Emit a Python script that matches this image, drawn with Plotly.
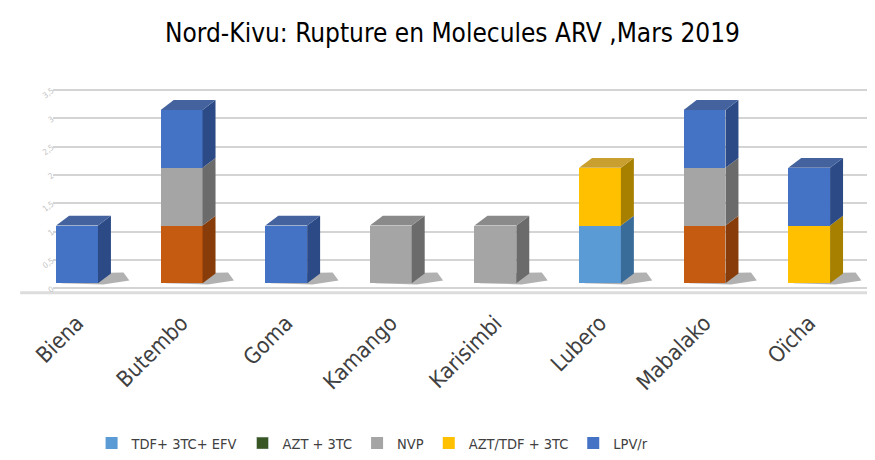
import numpy as np
import plotly.graph_objects as go

# ---------------- data ----------------
categories = ["Biena", "Butembo", "Goma", "Kamango", "Karisimbi", "Lubero", "Mabalako", "Oïcha"]
tdf_3tc_efv = [0, 0, 0, 0, 0, 1, 0, 0]
azt_3tc     = [0, 1, 0, 0, 0, 0, 1, 0]
nvp         = [0, 1, 0, 1, 1, 0, 1, 0]
azt_tdf_3tc = [0, 0, 0, 0, 0, 1, 0, 1]
lpv_r       = [1, 1, 1, 0, 0, 0, 1, 1]
y_tick_vals = [0, 0.5, 1, 1.5, 2, 2.5, 3, 3.5]
y_tick_text = ["0", "0,5", "1", "1,5", "2", "2,5", "3", "3,5"]

FONT = "DejaVu Sans Condensed, DejaVu Sans, sans-serif"

series = [
    # name, values, front, side, top, legend colour, showlegend
    ("TDF+ 3TC+ EFV", tdf_3tc_efv, "#5b9bd5", "#3a6c99", "#4a7fb0", "#5b9bd5", True),
    ("AZT + 3TC",     azt_3tc,     "#c55a11", "#873c09", "#a04a0e", "#375623", False),
    ("NVP",           nvp,         "#a5a5a5", "#6b6b6b", "#8a8a8a", "#a5a5a5", True),
    ("AZT/TDF + 3TC", azt_tdf_3tc, "#ffc000", "#a88000", "#c9a030", "#ffc000", True),
    ("LPV/r",         lpv_r,       "#4472c4", "#2b4a86", "#44639e", "#4472c4", True),
]

n = len(categories)
xi = np.arange(n)
bar_w = 0.40
dx = 0.124   # depth offset in category units
dy = 0.17    # depth offset in value units

fig = go.Figure()

# invisible trace to carry the gridline axis
fig.add_trace(go.Scatter(x=[0], y=[0], yaxis="y2", mode="markers",
                         marker=dict(opacity=0), showlegend=False, hoverinfo="skip"))

for name, vals, front, side, top, legc, showleg in series:
    fig.add_trace(go.Bar(x=xi, y=vals, name=name, width=bar_w,
                         marker=dict(color=front, line=dict(width=0)),
                         showlegend=showleg))
    if not showleg:
        fig.add_trace(go.Bar(x=xi, y=[None] * n, name=name, width=bar_w,
                             marker=dict(color=legc), showlegend=True))

# ---------------- 3D faces ----------------
shapes = []
stack = np.zeros(n)
totals = np.sum([np.array(s[1], float) for s in series], axis=0)

# shadows on floor
for i in range(n):
    if totals[i] > 0:
        xl, xr = xi[i] - bar_w / 2, xi[i] + bar_w / 2
        shapes.append(dict(type="path", xref="x", yref="y", layer="below",
                           path=f"M {xl+0.05},0 L {xr+0.05},-0.02 L {xr+0.30},0.05 L {xr+dx+0.12},{dy*1.1} L {xl+dx},{dy} Z",
                           fillcolor="rgba(60,60,60,0.40)", line=dict(width=0)))

for name, vals, front, side, top, legc, showleg in series:
    v = np.array(vals, float)
    for i in range(n):
        if v[i] <= 0:
            continue
        b = stack[i]
        t = b + v[i]
        xl, xr = xi[i] - bar_w / 2, xi[i] + bar_w / 2
        shapes.append(dict(type="path", xref="x", yref="y", layer="above",
                           path=f"M {xr},{b} L {xr+dx},{b+dy} L {xr+dx},{t+dy} L {xr},{t} Z",
                           fillcolor=side, line=dict(width=0)))
        if abs(t - totals[i]) < 1e-9:
            shapes.append(dict(type="path", xref="x", yref="y", layer="above",
                               path=f"M {xl},{t} L {xl+dx},{t+dy} L {xr+dx},{t+dy} L {xr},{t} Z",
                               fillcolor=top, line=dict(width=0)))
    stack += v

# floor edge
shapes.append(dict(type="line", xref="paper", yref="y2", layer="below",
                   x0=-0.04, x1=1.0, y0=-0.08, y1=-0.08,
                   line=dict(color="#dcdcdc", width=3)))

fig.update_layout(
    width=875, height=460,
    paper_bgcolor="white", plot_bgcolor="white",
    margin=dict(l=45, r=9, t=60, b=160),
    barmode="stack",
    bargap=0,
    title=dict(text="Nord-Kivu: Rupture en Molecules ARV ,Mars 2019",
               x=0.508, xanchor="center", y=0.945, yanchor="middle",
               font=dict(family=FONT, size=26, color="#000000")),
    xaxis=dict(range=[-0.23, 7.62], tickmode="array", tickvals=list(xi), ticktext=categories,
               tickangle=-45, showgrid=False, zeroline=False, showline=False, ticks="",
               automargin=False,
               tickfont=dict(family=FONT, size=22, color="#404040")),
    yaxis=dict(range=[-0.376, 3.726], showgrid=False, zeroline=False, showticklabels=False,
               showline=False, ticks="", automargin=False),
    yaxis2=dict(range=[-0.296, 3.885], overlaying="y", side="left", showgrid=True,
                gridcolor="#d4d4d4", gridwidth=2, zeroline=False, showline=False,
                tickmode="array", tickvals=y_tick_vals, ticktext=y_tick_text,
                automargin=False,
                tickangle=-37, tickfont=dict(family=FONT, size=8, color="#c4c4c4"), ticks=""),
    legend=dict(orientation="h", x=0.047, xanchor="left", y=-0.583, yanchor="middle",
                font=dict(family=FONT, size=14.5, color="#404040"),
                traceorder="normal", itemwidth=30),
    shapes=shapes,
    showlegend=True,
)

fig.write_html("out.html")
